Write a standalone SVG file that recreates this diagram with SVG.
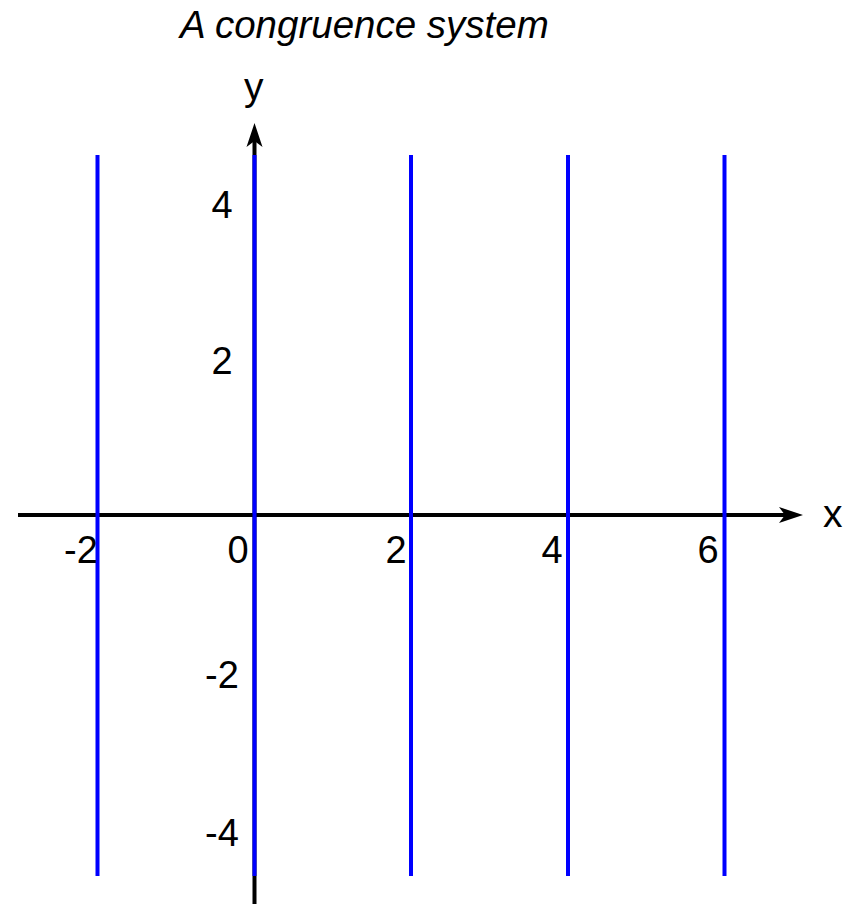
<svg xmlns="http://www.w3.org/2000/svg" width="858" height="904" viewBox="0 0 858 904">
<style>
text{font-family:"Liberation Sans",Arial,sans-serif;fill:#000}
.title{font-size:38.5px;font-style:italic}
.lab{font-size:39px}
.tick{font-size:38px;text-anchor:middle}
.axis{stroke:#000;stroke-width:4;fill:none}
.cong{stroke:#0000ff;stroke-width:4;fill:none}
</style>
<defs>
<marker id="arr" viewBox="0 -9 24 18" refX="6" refY="0" markerWidth="24" markerHeight="18" markerUnits="userSpaceOnUse" orient="auto">
<path d="M0,-8 L24,0 L0,8 L6,0 Z" fill="#000"/>
</marker>
</defs>
<rect width="858" height="904" fill="#fff"/>
<text class="title" x="180" y="38">A congruence system</text>
<g id="connectors">
<line id="x-axis" class="axis" x1="18" y1="515" x2="785" y2="515" marker-end="url(#arr)"/>
<line id="y-axis" class="axis" x1="254.5" y1="904" x2="254.5" y2="141" marker-end="url(#arr)"/>
</g>
<g id="lines">
<line class="cong" x1="97.5" y1="155" x2="97.5" y2="876"/>
<line class="cong" x1="254.5" y1="155" x2="254.5" y2="876"/>
<line class="cong" x1="411" y1="155" x2="411" y2="876"/>
<line class="cong" x1="568" y1="155" x2="568" y2="876"/>
<line class="cong" x1="724.5" y1="155" x2="724.5" y2="876"/>
</g>
<g id="labels">
<text class="lab" x="823" y="527">x</text>
<text class="lab" x="244" y="100">y</text>
<text class="tick" x="81" y="563">-2</text>
<text class="tick" x="238" y="563">0</text>
<text class="tick" x="396" y="563">2</text>
<text class="tick" x="552" y="563">4</text>
<text class="tick" x="708" y="563">6</text>
<text class="tick" x="222" y="218">4</text>
<text class="tick" x="222" y="374">2</text>
<text class="tick" x="222" y="688">-2</text>
<text class="tick" x="222" y="846">-4</text>
</g>
</svg>
